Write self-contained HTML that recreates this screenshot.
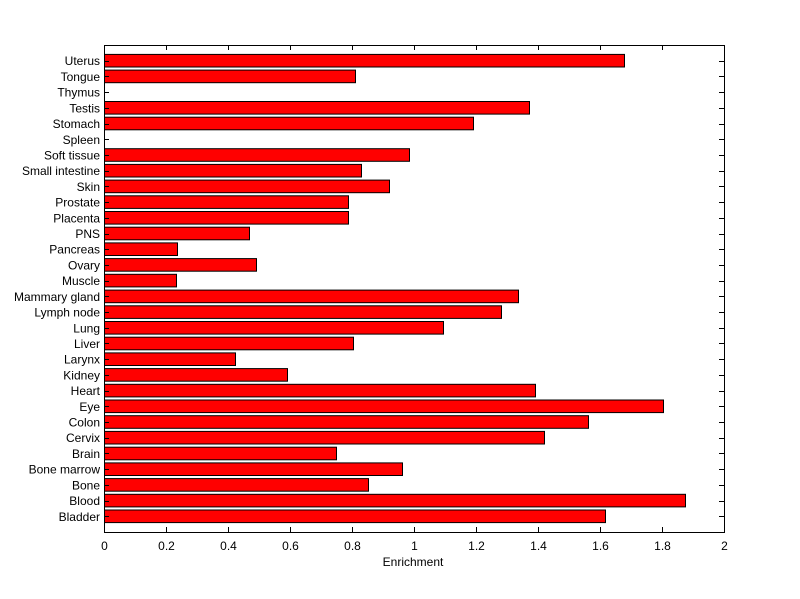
<!DOCTYPE html>
<html><head><meta charset="utf-8"><style>body{margin:0;background:#fff}svg{display:block}text{font-family:"Liberation Sans",sans-serif;font-size:12px;fill:#000}</style></head>
<body><svg id="s" width="800" height="599" xmlns="http://www.w3.org/2000/svg"></svg>
<script>
const names=["Bladder","Blood","Bone","Bone marrow","Brain","Cervix","Colon","Eye","Heart","Kidney","Larynx","Liver","Lung","Lymph node","Mammary gland","Muscle","Ovary","Pancreas","PNS","Placenta","Prostate","Skin","Small intestine","Soft tissue","Spleen","Stomach","Testis","Thymus","Tongue","Uterus"];
const ends=[605,685,368,402,336,544,588,663,535,287,235,353,443,501,518,176,256,177,249,348,348,389,361,409,104,473,529,104,355,624];
const L=104,R=724,T=45,B=532,st=(B-T)/31;
let h='<rect x="'+L+'.5" y="'+T+'.5" width="'+(R-L)+'" height="'+(B-T)+'" fill="#fff" stroke="#000"/>';
for(let i=0;i<30;i++){const c=B-st*(i+1);const y=Math.round(c);
 if(ends[i]>L)h+='<rect x="'+L+'.5" y="'+(c-6.3).toFixed(1)+'" width="'+(ends[i]-L)+'" height="12.6" fill="#f00" stroke="#000"/>';
 h+='<line x1="'+L+'" x2="'+(L+5)+'" y1="'+y+'.5" y2="'+y+'.5" stroke="#000"/><line x1="'+(R-5)+'" x2="'+R+'" y1="'+y+'.5" y2="'+y+'.5" stroke="#000"/>';
 h+='<text x="100" y="'+(c+4.5).toFixed(1)+'" text-anchor="end">'+names[i]+'</text>';}
for(let k=0;k<=10;k++){const x=Math.round(L+62*k);
 h+='<line x1="'+x+'.5" x2="'+x+'.5" y1="'+B+'" y2="'+(B-5)+'" stroke="#000"/><line x1="'+x+'.5" x2="'+x+'.5" y1="'+T+'" y2="'+(T+5)+'" stroke="#000"/>';
 const v=(k*0.2);h+='<text x="'+(x+0.5)+'" y="550" text-anchor="middle">'+(k%5==0?v.toFixed(0):+v.toFixed(1))+'</text>';}
h+='<text x="413" y="566" text-anchor="middle">Enrichment</text>';
document.getElementById('s').innerHTML=h;
</script></body></html>
